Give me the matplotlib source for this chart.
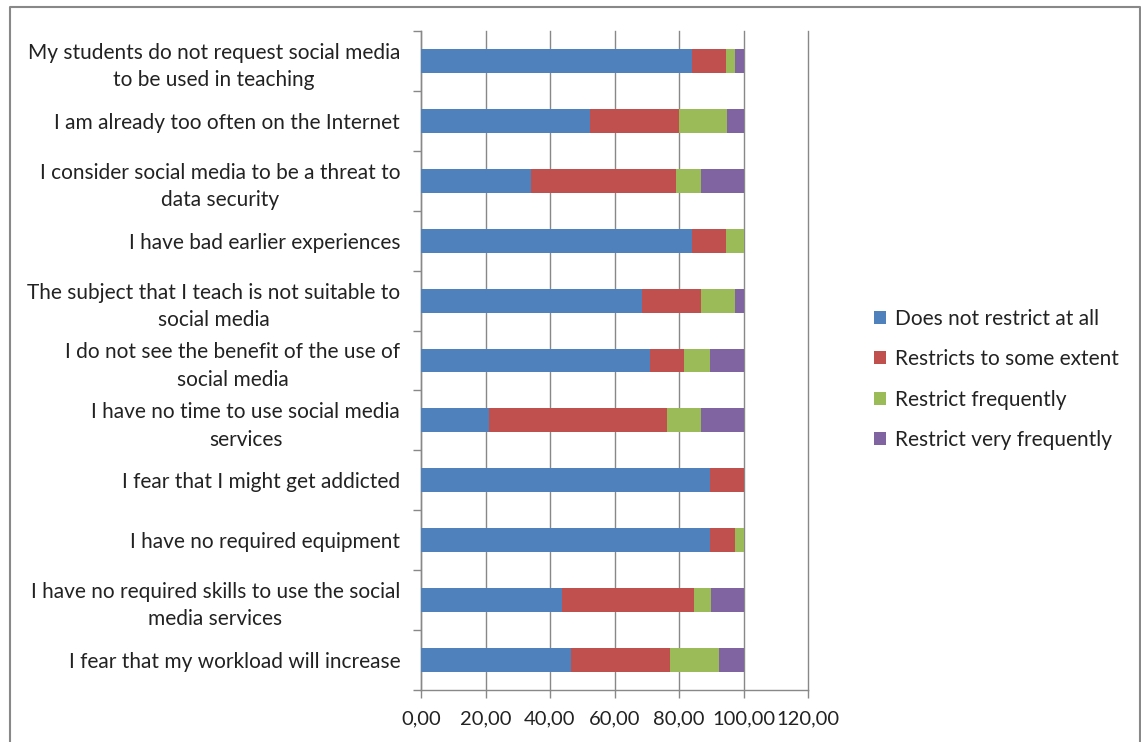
import matplotlib
matplotlib.use("Agg")
import matplotlib.pyplot as plt
from matplotlib.lines import Line2D
import numpy as np

plt.rcParams['font.family'] = ['Lato', 'DejaVu Sans']

categories = [
    "My students do not request social media\nto be used in teaching",
    "I am already too often on the Internet",
    "I consider social media to be a threat to\ndata security",
    "I have bad earlier experiences",
    "The subject that I teach is not suitable to\nsocial media",
    "I do not see the benefit of the use of\nsocial media",
    "I have no time to use social media\nservices",
    "I fear that I might get addicted",
    "I have no required equipment",
    "I have no required skills to use the social\nmedia services",
    "I fear that my workload will increase",
]
series_names = ["Does not restrict at all", "Restricts to some extent",
                "Restrict frequently", "Restrict very frequently"]
not_at_all = [84.1, 52.4, 34.2, 84.1, 68.6, 71.0, 21.1, 89.6, 89.6, 43.7, 46.4]
some_extent = [10.4, 27.7, 44.9, 10.4, 18.3, 10.5, 55.3, 10.4, 7.7, 40.8, 30.7]
frequently = [2.8, 14.8, 7.7, 5.5, 10.4, 8.1, 10.5, 0.0, 2.7, 5.4, 15.3]
very_frequently = [2.7, 5.1, 13.2, 0.0, 2.7, 10.4, 13.1, 0.0, 0.0, 10.1, 7.6]
xticks = [0, 20, 40, 60, 80, 100, 120]
xtick_labels = ["0,00", "20,00", "40,00", "60,00", "80,00", "100,00", "120,00"]

colors = ["#4F81BD", "#C0504D", "#9BBB59", "#8064A2"]

fig = plt.figure(figsize=(11.41, 7.42), dpi=100)
ax = fig.add_axes([421/1141, 1 - 690/742, (808-421)/1141, (690-31)/742])

y = np.arange(len(categories))
left = np.zeros(len(categories))
for vals, name, col in zip([not_at_all, some_extent, frequently, very_frequently], series_names, colors):
    vals = np.array(vals)
    ax.barh(y, vals, left=left, height=0.4, color=col, label=name, zorder=3)
    left += vals

ax.set_xlim(0, 120)
ax.set_ylim(len(categories) - 0.5, -0.5)
ax.set_xticks(xticks)
ax.set_xticklabels(xtick_labels, fontsize=14.5, color="#222222")
ax.set_yticks(y)
ax.set_yticklabels(categories, fontsize=15, color="#222222", multialignment="center",
                   linespacing=1.45)
ax.tick_params(axis='y', length=0, pad=15)
ax.set_yticks(np.arange(-0.5, len(categories), 1), minor=True)
ax.tick_params(axis='y', which='minor', length=6, color="#888888", width=1)
ax.tick_params(axis='x', length=6, color="#888888", width=1, pad=9)
ax.grid(axis='x', color="#888888", linewidth=1, zorder=0)
for gl in ax.get_xgridlines():
    gl.set_clip_on(False)
for s in ['top', 'right']:
    ax.spines[s].set_visible(False)
for s in ['left', 'bottom']:
    ax.spines[s].set_color("#888888")
    ax.spines[s].set_linewidth(1)

leg = fig.legend(loc='upper left', bbox_to_anchor=(855/1141, 1 - 290/742), frameon=False,
                 fontsize=15, handlelength=0.6, handleheight=0.6, handletextpad=0.4,
                 labelspacing=0.98, labelcolor="#222222")

# chart border
fig.add_artist(Line2D([10/1141, 10/1141, 1140/1141, 1140/1141],
                      [0, 1 - 7/742, 1 - 7/742, 0], transform=fig.transFigure,
                      color="#888888", linewidth=1.5))

fig.savefig("out.png", dpi=100)
